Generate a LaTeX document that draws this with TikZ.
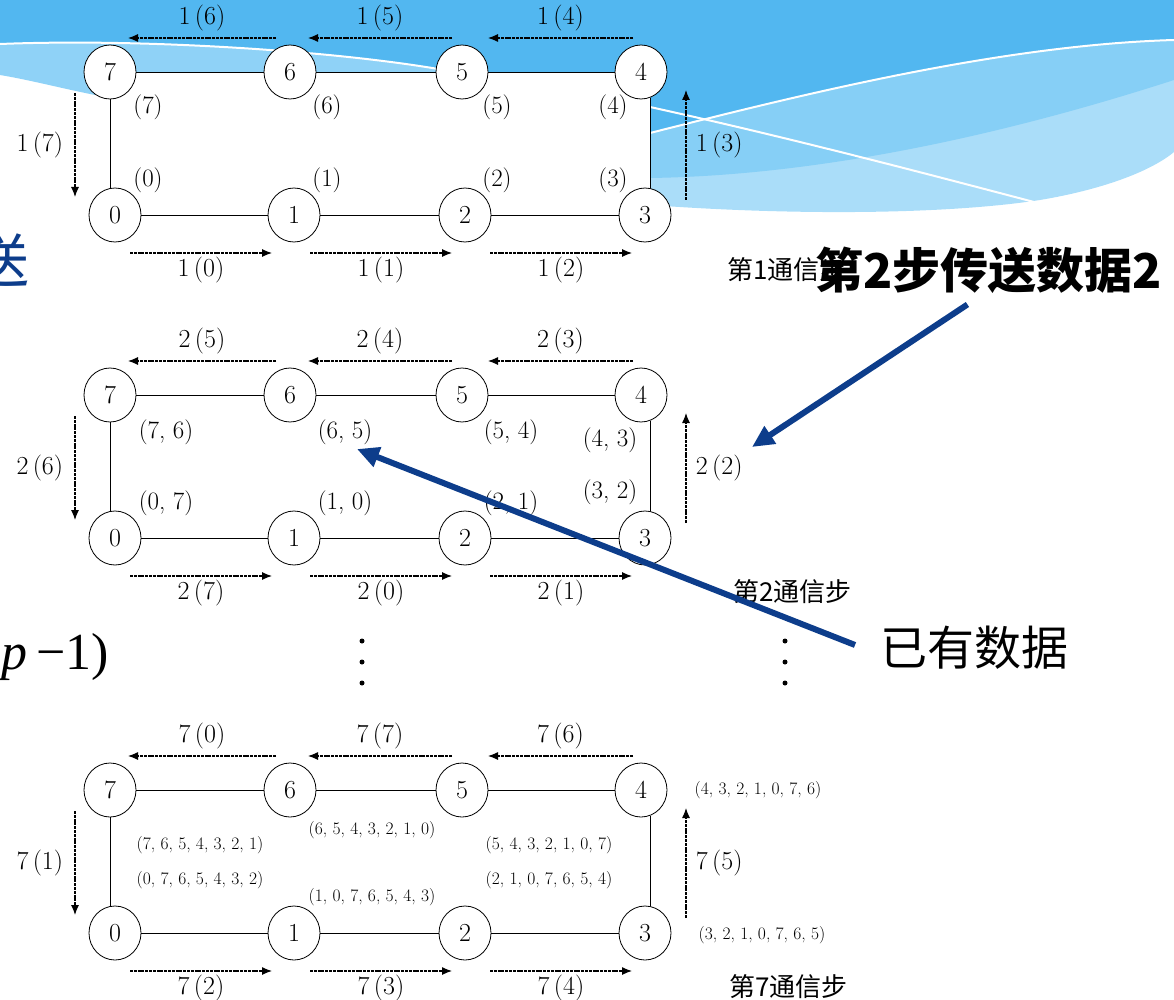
\documentclass[tikz,border=0pt]{standalone}
\usepackage{fontspec}
\usepackage{tikz}
\usetikzlibrary{arrows.meta,calc,shapes.geometric}
\newfontfamily\cjk{Noto Sans CJK SC}
\newfontfamily\timesfont{Liberation Serif}
\definecolor{skydark}{HTML}{52B7F0}
\definecolor{skymid}{HTML}{86CFF6}
\definecolor{skylight}{HTML}{AADDF9}
\definecolor{skyband}{HTML}{8FD2F7}
\definecolor{callblue}{HTML}{0D3D8B}
\tikzset{
  proc/.style={draw, ellipse, fill=white, minimum width=52, minimum height=54, inner sep=0pt, line width=0.8pt, font=\fontsize{26}{28}\selectfont},
  link/.style={line width=0.8pt},
  flow/.style={-{Latex[length=10pt,width=8pt]}, dash pattern=on 3pt off 0.8pt, line width=1.1pt},
  tag/.style={font=\fontsize{26}{28}\selectfont},
  data/.style={font=\fontsize{25}{28}\selectfont},
  tiny/.style={font=\fontsize{17.5}{19}\selectfont},
  stepname/.style={anchor=west, inner sep=0pt, font=\cjk\fontsize{26}{28}\selectfont},
  callout/.style={-{Triangle[length=22pt,width=20pt]}, line width=6pt, draw=callblue},
}
\newcommand{\ring}[9]{%
  \node[proc] (#17) at (110,72) {7};
  \node[proc] (#16) at (290,72) {6};
  \node[proc] (#15) at (462,72) {5};
  \node[proc] (#14) at (641,72) {4};
  \node[proc] (#10) at (115,215) {0};
  \node[proc] (#11) at (294,215) {1};
  \node[proc] (#12) at (465,215) {2};
  \node[proc] (#13) at (645,215) {3};
  \draw[link] (#17) -- (#16) -- (#15) -- (#14);
  \draw[link] (#10) -- (#11) -- (#12) -- (#13);
  \draw[link] (#17) -- (#17 |- #10.north);
  \draw[link] (#14.-70) -- (#14.-70 |- #13.north);
  % messages of the step
  \draw[flow] ($(#16)+(-14,-34)$) -- node[above=3pt,tag] {#2} ($(#17)+(18,-34)$);
  \draw[flow] ($(#15)+(-10,-34)$) -- node[above=3pt,tag] {#3} ($(#16)+(18,-34)$);
  \draw[flow] ($(#14)+(-8,-34)$) -- node[above=3pt,tag] {#4} ($(#15)+(26,-34)$);
  \draw[flow] ($(#17)+(-35,21)$) -- node[left=8pt,tag] {#5} ($(#10)+(-40,-18)$);
  \draw[flow] ($(#10)+(15,38)$) -- node[below,tag] {#6} ($(#11)+(-22,38)$);
  \draw[flow] ($(#11)+(16,38)$) -- node[below,tag] {#7} ($(#12)+(-13,38)$);
  \draw[flow] ($(#12)+(25,38)$) -- node[below,tag] {#8} ($(#13)+(-13,38)$);
  \draw[flow] ($(#13)+(41,-15)$) -- node[right=6pt,tag] {#9} ($(#14)+(45,18)$);
}

\begin{document}
\begin{tikzpicture}[x=1pt, y=-1pt]
  \useasboundingbox (0,0) rectangle (1174,1000);

  % slide background
  \fill[skylight] (650,72) -- (650,205) .. controls (800,216) and (950,214) .. (1040,200)
      .. controls (1100,190) and (1150,172) .. (1174,152) -- (1174,0) -- (650,0) -- cycle;
  \fill[skymid] (650,72) -- (650,178) .. controls (850,175) and (1050,120) .. (1174,80)
      -- (1174,0) -- (650,0) -- cycle;
  \fill[skydark] (0,0) -- (1174,0) -- (1174,40) .. controls (1000,45) and (800,95) .. (650,133)
      -- (650,72) -- (0,72) -- cycle;
  \fill[skyband] (0,44) .. controls (150,38) and (350,52) .. (455,72) -- (110,72) -- (95,95)
      .. controls (60,88) and (30,80) .. (0,75) -- cycle;
  \draw[white, line width=2pt] (0,44) .. controls (150,38) and (350,52) .. (455,72);
  \draw[white, line width=2pt] (650,133) .. controls (800,95) and (1000,45) .. (1174,40);
  \draw[white, line width=2pt] (650,107) .. controls (800,140) and (950,180) .. (1034,202);

  \node[anchor=east, inner sep=0pt, text=callblue, font=\cjk\fontsize{58}{60}\selectfont] (cutsend) at (30,260) {送};
  \node[anchor=east, inner sep=0pt, font=\timesfont\fontsize{52}{56}\selectfont] (cutp) at (109,657) {\itshape p\upshape\,−1)};

  \begin{scope}
    \ring{a}{1\,(6)}{1\,(5)}{1\,(4)}{1\,(7)}{1\,(0)}{1\,(1)}{1\,(2)}{1\,(3)}
    \foreach \k/\x/\y in {7/148/107, 6/327/107, 5/497/107, 4/613/107, 0/148/180, 1/327/180, 2/497/180, 3/613/180}
      \node[data] (ha\k) at (\x,\y) {(\k)};
  \end{scope}

  \begin{scope}[yshift=-323]
    \ring{b}{2\,(5)}{2\,(4)}{2\,(3)}{2\,(6)}{2\,(7)}{2\,(0)}{2\,(1)}{2\,(2)}
    \foreach \k/\j/\x/\y in {7/6/166/109, 6/5/345/109, 5/4/511/109, 4/3/610/117, 0/7/166/180, 1/0/345/180, 2/1/511/180, 3/2/610/169}
      \node[data] (hb\k) at (\x,\y) {(\k, \j)};
  \end{scope}

  \begin{scope}[yshift=-718]
    \ring{c}{7\,(0)}{7\,(7)}{7\,(6)}{7\,(1)}{7\,(2)}{7\,(3)}{7\,(4)}{7\,(5)}
    \node[tiny] (hc7) at (200,127) {(7, 6, 5, 4, 3, 2, 1)};
    \node[tiny] (hc0) at (200,162) {(0, 7, 6, 5, 4, 3, 2)};
    \node[tiny] (hc6) at (372,112) {(6, 5, 4, 3, 2, 1, 0)};
    \node[tiny] (hc1) at (372,179) {(1, 0, 7, 6, 5, 4, 3)};
    \node[tiny] (hc5) at (549,127) {(5, 4, 3, 2, 1, 0, 7)};
    \node[tiny] (hc2) at (549,162) {(2, 1, 0, 7, 6, 5, 4)};
    \node[tiny] (hc4) at (758,72) {(4, 3, 2, 1, 0, 7, 6)};
    \node[tiny] (hc3) at (762,217) {(3, 2, 1, 0, 7, 6, 5)};
  \end{scope}

  \foreach \y in {641,662,683}{
    \fill (362,\y) circle (2.5);
    \fill (785,\y) circle (2.5);
  }

  \node[stepname] (step1) at (727,270) {第1通信步};
  \node[stepname] (step2) at (733,592) {第2通信步};
  \node[stepname] (step7) at (729,987) {第7通信步};
  \node[anchor=west, inner sep=0pt, font=\cjk\bfseries\fontsize{48}{52}\selectfont] (head) at (815,270) {第2步传送数据2};
  \node[anchor=west, inner sep=0pt, font=\cjk\fontsize{47}{50}\selectfont] (have) at (880,648) {已有数据};

  \coordinate (tip1) at (752,447);
  \draw[callout] ($(head.south)+(-21,11)$) -- (tip1);
  \draw[callout] ($(have.west)+(-25,-3)$) -- ($(hb6.south)+(12,1)$);
\end{tikzpicture}
\end{document}
